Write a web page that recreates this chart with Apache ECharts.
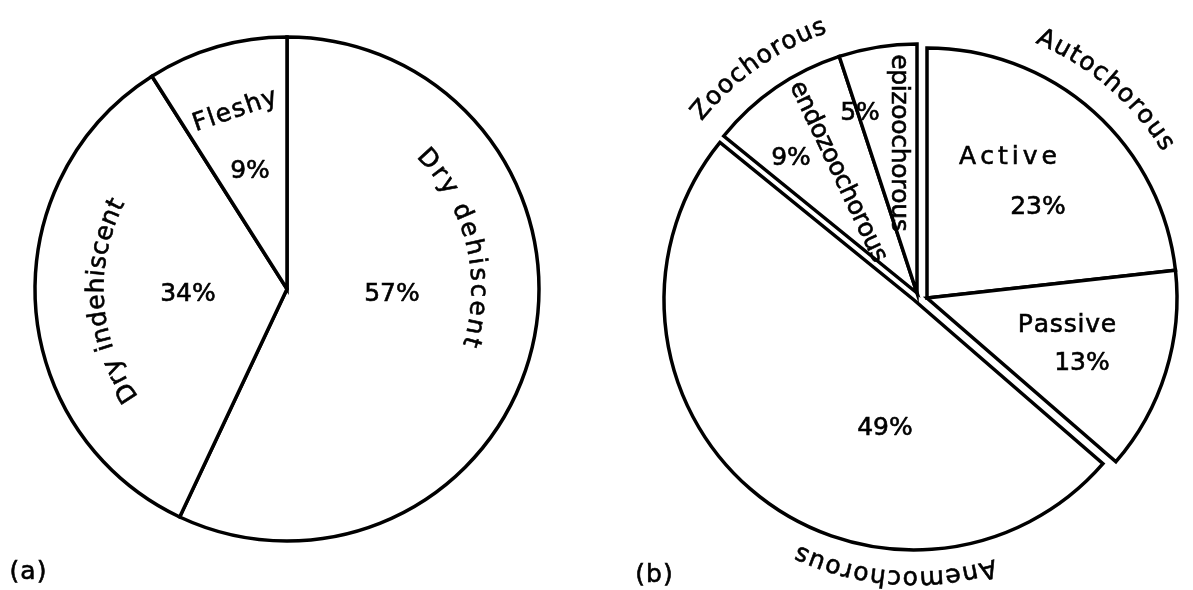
<!DOCTYPE html>
<html>
<head>
<meta charset="utf-8">
<script src="https://cdn.jsdelivr.net/npm/echarts@6/dist/echarts.min.js"></script>
<style>
html, body { margin: 0; padding: 0; background: #fff; }
#main { width: 1193px; height: 590px; }
</style>
</head>
<body>
<div id="main"></div>
<script>
// (a) fruit types
var fruitNames = ['Dry dehiscent', 'Dry indehiscent', 'Fleshy'];
var fruitValues = [57, 34, 9];

// (b) dispersal modes, clockwise from top
var dispNames = ['Active', 'Passive', 'Anemochorous', 'endozoochorous', 'epizoochorous'];
var dispValues = [23, 13, 49, 9, 5];
var dispGroups = ['Autochorous', 'Autochorous', 'Anemochorous', 'Zoochorous', 'Zoochorous'];
var groupNames = ['Autochorous', 'Anemochorous', 'Zoochorous'];

var FONT = 'DejaVu Sans';
var FS = 25;

// layout (px)
var pieA = { center: [287, 289], r: 252 };
var groupLayout = {
	Autochorous: { center: [927, 298], r: 250 },
	Anemochorous: { center: [914, 300], r: 250 },
	Zoochorous: { center: [917, 293], r: 249 }
};
var fruitPctPos = [[392, 294], [188, 294], [250, 171]];
var dispPctPos = [[1038, 207], [1082, 363], [885, 428], [791, 158], [860, 113]];

var ctx = document.createElement('canvas').getContext('2d');
ctx.font = FS + 'px "' + FONT + '"';

function chr(str, x, y, rot) {
	return {
		type: 'text', x: x, y: y, z: 100, rotation: rot, silent: true,
		style: {
			text: str, fill: '#000', stroke: '#000', lineWidth: 0.6,
			font: FS + 'px "' + FONT + '"',
			align: 'center', verticalAlign: 'middle', textAlign: 'center', textVerticalAlign: 'middle'
		}
	};
}

function widths(str) {
	return str.split('').map(function (ch) { return ctx.measureText(ch).width; });
}

// straight label, centred on x,y, letters spaced by hand
function lineText(str, x, y, rotDeg, spacing) {
	var ws = widths(str);
	var total = ws.reduce(function (a, b) { return a + b; }, 0) + spacing * (ws.length - 1);
	var rot = rotDeg * Math.PI / 180;
	var dx = Math.cos(rot), dy = -Math.sin(rot);
	var s = -total / 2;
	var out = [];
	for (var i = 0; i < str.length; i++) {
		var m = s + ws[i] / 2;
		out.push(chr(str[i], x + m * dx, y + m * dy, rot));
		s += ws[i] + spacing;
	}
	return out;
}

// letters laid along a circle, reading clockwise, tops outward
function arcText(str, cx, cy, r, midDeg, spacing) {
	var ws = widths(str);
	var total = ws.reduce(function (a, b) { return a + b; }, 0) + spacing * (ws.length - 1);
	var a = midDeg * Math.PI / 180 - total / 2 / r;
	var out = [];
	for (var i = 0; i < str.length; i++) {
		var th = a + ws[i] / 2 / r;
		out.push(chr(str[i], cx + r * Math.sin(th), cy - r * Math.cos(th), -th));
		a += (ws[i] + spacing) / r;
	}
	return out;
}

var lineStyle = { color: '#fff', borderColor: '#000', borderWidth: 3.5, borderJoin: 'miter' };
var pctLabel = {
	show: true, position: 'inside', formatter: '{c}%', color: '#000',
	fontFamily: FONT, fontSize: FS, textBorderColor: '#000', textBorderWidth: 0.6
};

var series = [{
	type: 'pie',
	center: pieA.center,
	radius: pieA.r,
	startAngle: 90,
	clockwise: true,
	silent: true,
	avoidLabelOverlap: false,
	itemStyle: lineStyle,
	label: pctLabel,
	labelLine: { show: false },
	labelLayout: function (p) {
		var q = fruitPctPos[p.dataIndex];
		return { x: q[0], y: q[1], align: 'center', verticalAlign: 'middle' };
	},
	data: fruitNames.map(function (n, i) { return { name: n, value: fruitValues[i] }; })
}];

groupNames.forEach(function (g) {
	var L = groupLayout[g];
	series.push({
		type: 'pie',
		center: L.center,
		radius: L.r,
		startAngle: 90,
		clockwise: true,
		silent: true,
		avoidLabelOverlap: false,
		itemStyle: lineStyle,
		label: pctLabel,
		labelLine: { show: false },
		labelLayout: function (p) {
			var q = dispPctPos[p.dataIndex];
			return { x: q[0], y: q[1], align: 'center', verticalAlign: 'middle' };
		},
		data: dispNames.map(function (n, i) {
			var on = dispGroups[i] === g;
			return {
				name: n, value: dispValues[i],
				itemStyle: on ? {} : { color: 'rgba(0,0,0,0)', borderWidth: 0 },
				label: { show: on }
			};
		})
	});
});

var A = groupLayout.Autochorous, Z = groupLayout.Zoochorous, N = groupLayout.Anemochorous;
var texts = []
	.concat(arcText(fruitNames[0], pieA.center[0], pieA.center[1], 191, 76, 3))
	.concat(arcText(fruitNames[1], pieA.center[0], pieA.center[1], 190, 266, 1))
	.concat(lineText(fruitNames[2], 235, 111, 19, 1.4))
	.concat(lineText(dispNames[0], 1008, 157, 0, 4))
	.concat(lineText(dispNames[1], 1067, 325, 0, 0.8))
	.concat(lineText(dispNames[3], 838, 172, -64.6, -0.6))
	.concat(lineText(dispNames[4], 898, 143, -90, -0.3))
	.concat(arcText('Autochorous', A.center[0], A.center[1], 284, 40.6, 1.7))
	.concat(arcText('Zoochorous', Z.center[0], Z.center[1], 282, 324.8, 1.4))
	.concat(arcText('Anemochorous', N.center[0], N.center[1], 278, 184, 1.6))
	.concat(lineText('(a)', 28, 572, 0, 1))
	.concat(lineText('(b)', 654, 575, 0, 1));

var chart = echarts.init(document.getElementById('main'));
chart.setOption({
	backgroundColor: '#fff',
	animation: false,
	series: series,
	graphic: { elements: texts }
});
</script>
</body>
</html>
